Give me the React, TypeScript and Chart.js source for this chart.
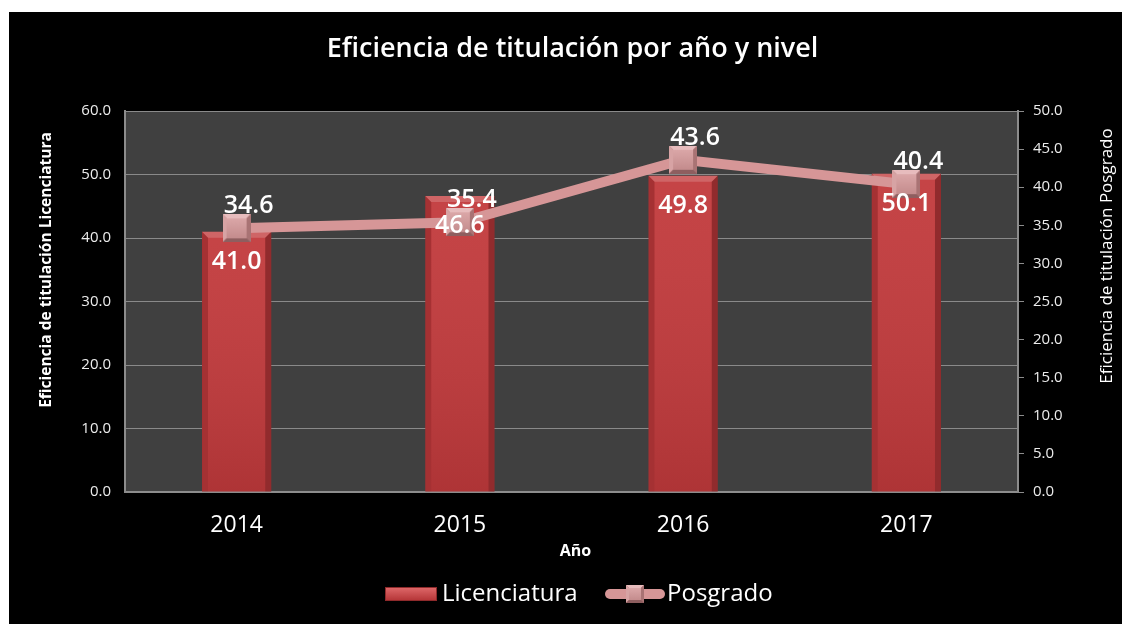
import React, { useEffect, useRef } from "react";
import { Chart, registerables } from "chart.js";

Chart.register(...registerables);

const categories = ["2014", "2015", "2016", "2017"];
const licenciatura = [41.0, 46.6, 49.8, 50.1];
const posgrado = [34.6, 35.4, 43.6, 40.4];
const seriesNames = ["Licenciatura", "Posgrado"];
const chartTitle = "Eficiencia de titulación por año y nivel";
const leftAxisTitle = "Eficiencia de titulación Licenciatura";
const rightAxisTitle = "Eficiencia de titulación Posgrado";
const xAxisTitle = "Año";

const FONT = "'Open Sans', 'DejaVu Sans', sans-serif";
const BAR_COLOR = "#c23a3c";
const LINE_COLOR = "#d69697";

function makeMarker(size: number): HTMLCanvasElement {
  const c = document.createElement("canvas");
  c.width = size;
  c.height = size;
  const g = c.getContext("2d")!;
  g.fillStyle = "#9a6869";
  g.fillRect(0, 0, size, size);
  const b = Math.max(2, Math.round(size * 0.16));
  g.fillStyle = "#e7bcbd";
  g.beginPath();
  g.moveTo(0, 0); g.lineTo(size, 0); g.lineTo(size - b, b); g.lineTo(b, b); g.closePath(); g.fill();
  g.fillStyle = "#d7a3a4";
  g.beginPath();
  g.moveTo(0, 0); g.lineTo(b, b); g.lineTo(b, size - b); g.lineTo(0, size); g.closePath(); g.fill();
  g.fillStyle = "#a97374";
  g.beginPath();
  g.moveTo(size, 0); g.lineTo(size, size); g.lineTo(size - b, size - b); g.lineTo(size - b, b); g.closePath(); g.fill();
  g.fillStyle = "#8e5e5f";
  g.beginPath();
  g.moveTo(0, size); g.lineTo(b, size - b); g.lineTo(size - b, size - b); g.lineTo(size, size); g.closePath(); g.fill();
  const grad = g.createLinearGradient(0, b, 0, size - b);
  grad.addColorStop(0, "#dba7a8");
  grad.addColorStop(1, "#c48c8d");
  g.fillStyle = grad;
  g.fillRect(b, b, size - 2 * b, size - 2 * b);
  return c;
}

const decorPlugin = {
  id: "decor",
  beforeDraw(chart: any) {
    const { ctx, chartArea: a } = chart;
    ctx.save();
    ctx.fillStyle = "#000000";
    ctx.fillRect(0, 0, chart.width, chart.height);
    ctx.fillStyle = "#404040";
    ctx.fillRect(a.left, a.top, a.right - a.left, a.bottom - a.top);
    ctx.restore();
  },
  afterDatasetDraw(chart: any, args: any) {
    if (args.index !== 0) return;
    const { ctx } = chart;
    const meta = chart.getDatasetMeta(0);
    ctx.save();
    meta.data.forEach((el: any) => {
      const l = el.x - el.width / 2;
      const r = el.x + el.width / 2;
      const t = el.y;
      const btm = el.base;
      const b = 6;
      ctx.fillStyle = "rgba(255,255,255,0.22)";
      ctx.beginPath();
      ctx.moveTo(l, t); ctx.lineTo(r, t); ctx.lineTo(r - b, t + b); ctx.lineTo(l + b, t + b); ctx.closePath(); ctx.fill();
      ctx.fillStyle = "rgba(0,0,0,0.15)";
      ctx.beginPath();
      ctx.moveTo(l, t); ctx.lineTo(l + b, t + b); ctx.lineTo(l + b, btm); ctx.lineTo(l, btm); ctx.closePath(); ctx.fill();
      ctx.fillStyle = "rgba(0,0,0,0.25)";
      ctx.beginPath();
      ctx.moveTo(r, t); ctx.lineTo(r - b, t + b); ctx.lineTo(r - b, btm); ctx.lineTo(r, btm); ctx.closePath(); ctx.fill();
      const grad = ctx.createLinearGradient(0, t + b, 0, btm);
      grad.addColorStop(0, "rgba(255,255,255,0.05)");
      grad.addColorStop(1, "rgba(0,0,0,0.1)");
      ctx.fillStyle = grad;
      ctx.fillRect(l + b, t + b, r - l - 2 * b, btm - t - b);
    });
    ctx.restore();
  },
  afterDraw(chart: any) {
    const { ctx, chartArea: a } = chart;
    ctx.save();
    ctx.fillStyle = "#ffffff";
    ctx.textAlign = "center";
    ctx.textBaseline = "middle";

    ctx.font = `600 25px ${FONT}`;
    chart.getDatasetMeta(0).data.forEach((el: any, i: number) => {
      ctx.fillText(licenciatura[i].toFixed(1), el.x, el.y + 30);
    });
    chart.getDatasetMeta(1).data.forEach((el: any, i: number) => {
      ctx.fillText(posgrado[i].toFixed(1), el.x + 12, el.y - 22);
    });

    ctx.font = `600 27px ${FONT}`;
    ctx.fillText(chartTitle, (a.left + a.right) / 2 + 1, 37);

    ctx.font = `bold 15.5px ${FONT}`;
    ctx.save();
    ctx.translate(38, 258);
    ctx.rotate(-Math.PI / 2);
    ctx.fillText(leftAxisTitle, 0, 0);
    ctx.restore();

    ctx.font = `17px ${FONT}`;
    ctx.save();
    ctx.translate(1098, 244);
    ctx.rotate(-Math.PI / 2);
    ctx.fillText(rightAxisTitle, 0, 0);
    ctx.restore();

    ctx.font = `bold 16px ${FONT}`;
    ctx.fillText(xAxisTitle, (a.left + a.right) / 2 + 4, 539);

    const ly = 582;
    ctx.textAlign = "left";
    ctx.font = `24px ${FONT}`;
    const sw = ctx.createLinearGradient(0, ly - 7, 0, ly + 7);
    sw.addColorStop(0, "#e06a6b");
    sw.addColorStop(1, "#b33335");
    ctx.fillStyle = sw;
    ctx.fillRect(376, ly - 7, 52, 14);
    ctx.strokeStyle = "#8e2a2b";
    ctx.lineWidth = 1;
    ctx.strokeRect(376.5, ly - 6.5, 51, 13);
    ctx.fillStyle = "#ffffff";
    ctx.fillText(seriesNames[0], 433, ly);

    ctx.strokeStyle = LINE_COLOR;
    ctx.lineWidth = 10;
    ctx.lineCap = "round";
    ctx.beginPath();
    ctx.moveTo(601, ly);
    ctx.lineTo(651, ly);
    ctx.stroke();
    ctx.drawImage(makeMarker(18), 617, ly - 9, 18, 18);
    ctx.fillStyle = "#ffffff";
    ctx.fillText(seriesNames[1], 658, ly);

    ctx.restore();
  },
};

export default function App() {
  const canvasRef = useRef<HTMLCanvasElement | null>(null);

  useEffect(() => {
    if (!canvasRef.current) return;
    const marker = makeMarker(28);
    const chart = new Chart(canvasRef.current, {
      type: "bar",
      data: {
        labels: categories,
        datasets: [
          {
            type: "bar",
            label: seriesNames[0],
            data: licenciatura,
            backgroundColor: BAR_COLOR,
            borderWidth: 0,
            barPercentage: 1,
            categoryPercentage: 0.31,
            yAxisID: "y",
            order: 1,
          },
          {
            type: "line",
            label: seriesNames[1],
            data: posgrado,
            borderColor: LINE_COLOR,
            borderWidth: 10,
            borderCapStyle: "round",
            pointStyle: marker,
            pointRadius: 14,
            pointHoverRadius: 14,
            yAxisID: "y1",
            order: 0,
          },
        ],
      },
      options: {
        animation: false,
        responsive: true,
        maintainAspectRatio: false,
        layout: { padding: { top: 99, bottom: 0, left: 0, right: 0 } },
        plugins: {
          legend: { display: false },
          tooltip: { enabled: false },
          title: { display: false },
        },
        scales: {
          x: {
            type: "category",
            offset: true,
            grid: { display: false, drawTicks: false },
            border: { display: true, color: "#8c8c8c", width: 2 },
            ticks: { color: "#ffffff", font: { family: FONT, size: 23 }, padding: 20 },
            afterFit: (s: any) => { s.height = 132; },
          },
          y: {
            position: "left",
            min: 0,
            max: 60,
            ticks: {
              stepSize: 10,
              color: "#ececec",
              font: { family: FONT, size: 15 },
              padding: 14,
              callback: (v: any) => Number(v).toFixed(1),
            },
            grid: { color: "#8a8a8a", lineWidth: 1, drawTicks: false },
            border: { display: true, color: "#8c8c8c", width: 2 },
            afterFit: (s: any) => { s.width = 116; },
          },
          y1: {
            position: "right",
            min: 0,
            max: 50,
            ticks: {
              stepSize: 5,
              color: "#ececec",
              font: { family: FONT, size: 15 },
              padding: 9,
              callback: (v: any) => Number(v).toFixed(1),
            },
            grid: { drawOnChartArea: false, drawTicks: true, tickLength: 6, color: "#8c8c8c" },
            border: { display: true, color: "#8c8c8c", width: 2 },
            afterFit: (s: any) => { s.width = 104; },
          },
        },
      },
      plugins: [decorPlugin],
    } as any);
    return () => chart.destroy();
  }, []);

  return (
    <div style={{ position: "absolute", left: 9, top: 12, width: 1113, height: 612 }}>
      <canvas ref={canvasRef} />
    </div>
  );
}
